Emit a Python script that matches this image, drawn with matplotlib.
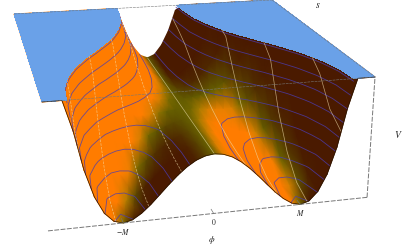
import numpy as np
import matplotlib
matplotlib.use('Agg')
import matplotlib.pyplot as plt
from matplotlib.colors import LinearSegmentedColormap
from contourpy import contour_generator

# phi >= 0 only, the picture is mirrored about phi = 0
phi_half = [0, .1, .2, .3, .4, .5, .6, .7, .8, .9, 1.0, 1.1, 1.2, 1.3, 1.4, 1.5, 1.6, 1.7, 1.8]
s_rows = [0, .1, .2, .3, .4, .5, .6, .7, .8, .9, 1.0]

# V along phi, one list for each s row (height 1 = top of the box)
v_s00 = [.490, .480, .452, .406, .346, .276, .201, .127, .064, .018, 0, .022, .095, .233, .452, .766, 1.192, 1.750, 2.459]
v_s01 = [.490, .480, .454, .410, .353, .288, .218, .150, .093, .055, .046, .078, .161, .311, .542, .870, 1.310, 1.883, 2.608]
v_s02 = [.490, .482, .459, .423, .375, .322, .267, .217, .182, .167, .184, .245, .360, .544, .813, 1.180, 1.663, 2.282, 3.055]
v_s03 = [.490, .484, .469, .443, .412, .380, .350, .330, .329, .353, .414, .523, .691, .933, 1.263, 1.698, 2.252, 2.946, 3.800]
v_s04 = [.490, .487, .481, .472, .464, .460, .466, .488, .535, .614, .736, .913, 1.155, 1.477, 1.895, 2.422, 3.076, 3.877, 4.844]
v_s05 = [.490, .492, .498, .510, .530, .564, .615, .691, .800, .950, 1.150, 1.414, 1.751, 2.177, 2.706, 3.354, 4.136, 5.074, 6.185]
v_s06 = [.490, .497, .518, .555, .611, .690, .797, .938, 1.124, 1.359, 1.656, 2.026, 2.480, 3.032, 3.698, 4.492, 5.431, 6.536, 7.824]
v_s07 = [.490, .503, .542, .609, .707, .840, 1.012, 1.231, 1.507, 1.844, 2.254, 2.749, 3.341, 4.042, 4.870, 5.838, 6.962, 8.264, 9.762]
v_s08 = [.490, .509, .570, .671, .817, 1.012, 1.261, 1.570, 1.948, 2.403, 2.944, 3.584, 4.334, 5.208, 6.222, 7.390, 8.729, 10.258, 11.998]
v_s09 = [.490, .515, .590, .715, .890, 1.140, 1.500, 1.953, 2.449, 3.036, 3.726, 4.530, 5.460, 6.530, 7.755, 9.150, 10.731, 12.518, 14.531]
v_s10 = [.490, .520, .610, .750, .950, 1.280, 1.800, 2.381, 3.008, 3.744, 4.600, 5.588, 6.719, 8.007, 9.468, 11.116, 12.968, 15.044, 17.363]

v_levels = [.02, .09, .19, .3, .42, .53, .65, .76, .87, .98]
phi_lines = [-1.44, -1.08, -.72, -.36, 0, .36, .72, 1.08, 1.44]
tick_phi = [-1, 0, 1]
tick_labels = [r'$-M$', r'$0$', r'$M$']

# where the box corners sit in the picture, used to build the camera
top_corners = [(42, 102), (375, 77), (272, 0), (14, 14)]
vertical_vp = (179, 3045)
floor_left_x = 48


def make_camera():
    A, b = [], []
    for (u, v), (x, y) in zip([(0, 0), (1, 0), (1, 1), (0, 1)], top_corners):
        A.append([u, v, 1, 0, 0, 0, -u * x, -v * x])
        A.append([0, 0, 0, u, v, 1, -u * y, -v * y])
        b += [x, y]
    h = np.linalg.solve(np.array(A, float), np.array(b, float))
    H = np.append(h, 1).reshape(3, 3)
    vp = np.array([vertical_vp[0], vertical_vp[1], 1.0])
    x0 = H[0, 2] / H[2, 2]
    alpha = H[2, 2] * (x0 - floor_left_x) / (vp[0] - floor_left_x)
    return H, alpha * vp


H, vp_col = make_camera()


def project(phi, s, v):
    phi, s, v = np.broadcast_arrays(phi, s, v)
    u = (np.asarray(phi, float) + phi_half[-1]) / (2 * phi_half[-1])
    d = 1 - np.asarray(v, float)
    w = H[2, 0] * u + H[2, 1] * s + H[2, 2] - vp_col[2] * d
    x = (H[0, 0] * u + H[0, 1] * s + H[0, 2] - vp_col[0] * d) / w
    y = (H[1, 0] * u + H[1, 1] * s + H[1, 2] - vp_col[1] * d) / w
    return x, y


phi_half = np.array(phi_half)
phi_all = np.r_[-phi_half[:0:-1], phi_half]
rows = [v_s10, v_s09, v_s08, v_s07, v_s06, v_s05, v_s04, v_s03, v_s02, v_s01, v_s00]
V = np.array([np.r_[r[:0:-1], r] for r in rows])
s_all = np.array(s_rows)[::-1]
PHI, S = np.meshgrid(phi_all, s_all)

Xp, Yp = project(PHI, S, np.minimum(V, 1))
Xcap, Ycap = project(PHI, S, 1)

# colour is a light from the left and the front on the surface normal
dv_s, dv_phi = np.gradient(V, s_all, phi_all)
dv_s[-1] = 0  # the front edge is flat in s
shade = (-1.6 * dv_phi + .75 * np.minimum(dv_s, 1.5) + .11) / np.sqrt(1 + dv_phi ** 2 + dv_s ** 2)
shade = shade - .15 * PHI * np.minimum(5 * S, 1) - .15 * S

cmap = LinearSegmentedColormap.from_list('pot', [
    (0.0, '#4a1a00'), (0.107, '#4a1a00'), (0.25, '#4f2800'), (0.393, '#5a4600'), (0.5, '#625a00'),
    (0.586, '#6c6400'), (0.679, '#a87c00'), (0.786, '#e08000'), (0.893, '#ff8000'), (1.0, '#ff7c00')])

fig = plt.figure(figsize=(4.15, 2.46), dpi=100)
ax = fig.add_axes([0, 0, 1, 1])
ax.set_xlim(0, 415)
ax.set_ylim(246, 0)
ax.axis('off')

ax.pcolormesh(Xp, Yp, shade, shading='gouraud', cmap=cmap, vmin=-.7, vmax=.7, zorder=2)

# contours are found in (phi, s) and then projected at their own height
gen = contour_generator(phi_all, s_all, V)
for lev in v_levels:
    for line in gen.lines(lev):
        xx, yy = project(line[:, 0], line[:, 1], lev)
        ax.plot(xx, yy, color='#4a3cb0', lw=.6, alpha=.8, zorder=3)

ax.contour(Xp, Yp, PHI, levels=phi_lines, colors='#f2dfae', linewidths=.5, alpha=.65, zorder=3)
ax.contourf(Xcap, Ycap, V, levels=[1, 100], colors='#6aa1e8', zorder=4)
ax.plot(Xp[-1], Yp[-1], color='#2a1500', lw=.5, zorder=4)

# dashed box edges
a = phi_half[-1]
for p0, p1 in [((-a, 0, 0), (a, 0, 0)), ((a, 0, 0), (a, 0, 1))]:
    xx, yy = project(np.array([p0[0], p1[0]]), np.array([p0[1], p1[1]]), np.array([p0[2], p1[2]]))
    ax.plot(xx, yy, color='#777777', lw=.7, dashes=(5, 1.5), zorder=5)
for p0, p1 in [((-a, 1, 1), (a, 1, 1)), ((a, 1, 1), (a, 0, 1)), ((a, 0, 1), (-a, 0, 1))]:
    xx, yy = project(np.array([p0[0], p1[0]]), np.array([p0[1], p1[1]]), np.array([p0[2], p1[2]]))
    ax.plot(xx, yy, color='#777777', lw=.4, dashes=(5, 1.5), zorder=5)

# ticks and labels
for p, lab in zip(tick_phi, tick_labels):
    xt, yt = project(p, 0, 0)
    xt2, yt2 = project(p, .03, 0)
    ax.plot([xt, xt2], [yt, yt2], color='#777777', lw=.5, zorder=5)
    ax.text(xt, yt + 9, lab, fontsize=5.5, ha='center', va='center', color='#222222', math_fontfamily='stix')

ax.text(212, 240, r'$\phi$', fontsize=6.5, ha='center', va='center', color='#222222', math_fontfamily='stix')
ax.text(398, 134, r'$V$', fontsize=7, ha='center', va='center', color='#222222', math_fontfamily='stix')
ax.text(318, 5, r'$s$', fontsize=7, ha='center', va='center', color='#222222', math_fontfamily='stix')

fig.savefig('out.png', dpi=100)
